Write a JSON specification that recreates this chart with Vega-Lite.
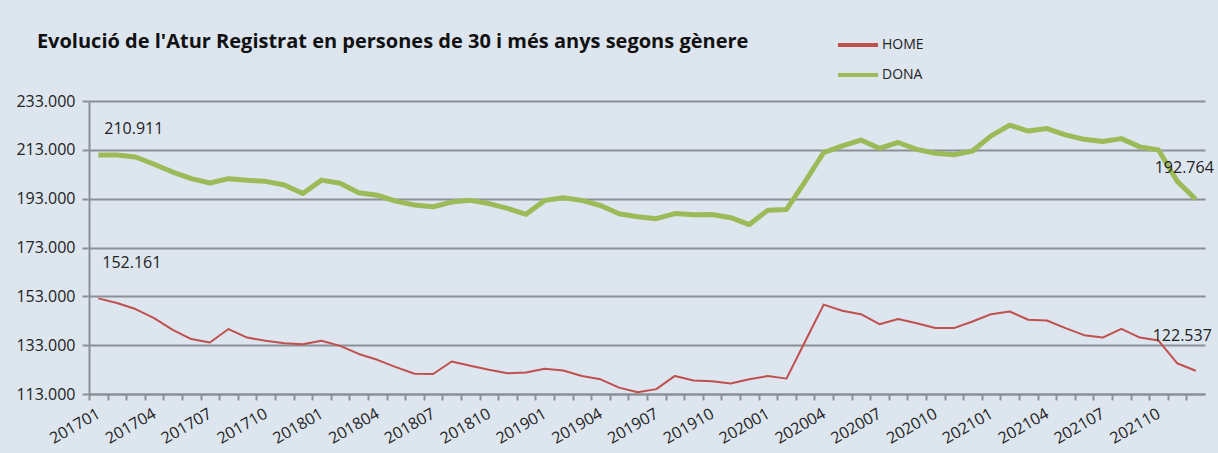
{
  "$schema": "https://vega.github.io/schema/vega-lite/v6.json",
  "width": 1116,
  "height": 293,
  "autosize": {"type": "none"},
  "padding": {"left": 89, "top": 101, "right": 13, "bottom": 59},
  "background": "#DDE5EF",
  "config": {
    "locale": {"number": {"decimal": ",", "thousands": ".", "grouping": [3], "currency": ["", " €"]}},
    "view": {"stroke": null},
    "font": "Open Sans"
  },
  "title": {
    "text": "Evolució de l'Atur Registrat en persones de 30 i més anys segons gènere",
    "anchor": "start",
    "dx": 21,
    "offset": -29,
    "fontSize": 20,
    "fontWeight": "bold",
    "font": "Open Sans",
    "color": "#111111"
  },
  "data": {
    "values": [
      {"mes": "201701", "HOME": 152161, "DONA": 210911},
      {"mes": "201702", "HOME": 150250, "DONA": 210900},
      {"mes": "201703", "HOME": 147800, "DONA": 210050},
      {"mes": "201704", "HOME": 144100, "DONA": 207100},
      {"mes": "201705", "HOME": 139300, "DONA": 203900},
      {"mes": "201706", "HOME": 135500, "DONA": 201200},
      {"mes": "201707", "HOME": 134100, "DONA": 199400},
      {"mes": "201708", "HOME": 139600, "DONA": 201200},
      {"mes": "201709", "HOME": 136100, "DONA": 200500},
      {"mes": "201710", "HOME": 134800, "DONA": 200100},
      {"mes": "201711", "HOME": 133800, "DONA": 198600},
      {"mes": "201712", "HOME": 133400, "DONA": 195100},
      {"mes": "201801", "HOME": 134800, "DONA": 200600},
      {"mes": "201802", "HOME": 132700, "DONA": 199300},
      {"mes": "201803", "HOME": 129400, "DONA": 195400},
      {"mes": "201804", "HOME": 127000, "DONA": 194400},
      {"mes": "201805", "HOME": 124000, "DONA": 192000},
      {"mes": "201806", "HOME": 121300, "DONA": 190400},
      {"mes": "201807", "HOME": 121200, "DONA": 189700},
      {"mes": "201808", "HOME": 126300, "DONA": 191600},
      {"mes": "201809", "HOME": 124600, "DONA": 192300},
      {"mes": "201810", "HOME": 122900, "DONA": 191000},
      {"mes": "201811", "HOME": 121500, "DONA": 189000},
      {"mes": "201812", "HOME": 121800, "DONA": 186600},
      {"mes": "201901", "HOME": 123300, "DONA": 192300},
      {"mes": "201902", "HOME": 122600, "DONA": 193400},
      {"mes": "201903", "HOME": 120400, "DONA": 192300},
      {"mes": "201904", "HOME": 119000, "DONA": 190200},
      {"mes": "201905", "HOME": 115600, "DONA": 186800},
      {"mes": "201906", "HOME": 113700, "DONA": 185600},
      {"mes": "201907", "HOME": 115000, "DONA": 184800},
      {"mes": "201908", "HOME": 120400, "DONA": 186900},
      {"mes": "201909", "HOME": 118500, "DONA": 186400},
      {"mes": "201910", "HOME": 118200, "DONA": 186500},
      {"mes": "201911", "HOME": 117300, "DONA": 185200},
      {"mes": "201912", "HOME": 119000, "DONA": 182400},
      {"mes": "202001", "HOME": 120400, "DONA": 188300},
      {"mes": "202002", "HOME": 119300, "DONA": 188600},
      {"mes": "202003", "HOME": 134500, "DONA": 200000},
      {"mes": "202004", "HOME": 149600, "DONA": 211900},
      {"mes": "202005", "HOME": 147100, "DONA": 214600},
      {"mes": "202006", "HOME": 145700, "DONA": 217000},
      {"mes": "202007", "HOME": 141600, "DONA": 213600},
      {"mes": "202008", "HOME": 143700, "DONA": 216000},
      {"mes": "202009", "HOME": 142000, "DONA": 213200},
      {"mes": "202010", "HOME": 140000, "DONA": 211600},
      {"mes": "202011", "HOME": 140000, "DONA": 211000},
      {"mes": "202012", "HOME": 142700, "DONA": 212500},
      {"mes": "202101", "HOME": 145700, "DONA": 218700},
      {"mes": "202102", "HOME": 146800, "DONA": 223100},
      {"mes": "202103", "HOME": 143400, "DONA": 220700},
      {"mes": "202104", "HOME": 143100, "DONA": 221700},
      {"mes": "202105", "HOME": 140000, "DONA": 219100},
      {"mes": "202106", "HOME": 137100, "DONA": 217300},
      {"mes": "202107", "HOME": 136100, "DONA": 216400},
      {"mes": "202108", "HOME": 139700, "DONA": 217600},
      {"mes": "202109", "HOME": 136100, "DONA": 214200},
      {"mes": "202110", "HOME": 134900, "DONA": 212900},
      {"mes": "202111", "HOME": 125600, "DONA": 200200},
      {"mes": "202112", "HOME": 122537, "DONA": 192764}
    ]
  },
  "transform": [{"fold": ["HOME", "DONA"], "as": ["serie", "valor"]}],
  "encoding": {
    "x": {
      "field": "mes",
      "type": "ordinal",
      "scale": {"type": "band", "paddingInner": 0, "paddingOuter": 0},
      "axis": {
        "title": null,
        "orient": "bottom",
        "labelExpr": "indexof(['01','04','07','10'], slice(datum.value, 4)) >= 0 ? datum.value : ''",
        "labelAngle": -30,
        "labelAlign": "right",
        "labelBaseline": "middle",
        "labelPadding": 12,
        "labelFontSize": 16,
        "labelColor": "#222222",
        "labelFont": "Open Sans",
        "labelOverlap": false,
        "tickOffset": -9.3,
        "labelOffset": 9.3,
        "domainColor": "#8C9096",
        "domainWidth": 2,
        "tickColor": "#8C9096",
        "tickWidth": 2,
        "tickSize": 6,
        "grid": false
      }
    },
    "y": {
      "field": "valor",
      "type": "quantitative",
      "scale": {"domain": [113000, 233000], "nice": false, "zero": false},
      "axis": {
        "title": null,
        "values": [113000, 133000, 153000, 173000, 193000, 213000, 233000],
        "format": ",d",
        "labelFontSize": 16,
        "labelColor": "#222222",
        "labelFont": "Open Sans",
        "labelPadding": 7,
        "grid": true,
        "gridColor": "#8C9096",
        "gridWidth": 2,
        "domainColor": "#8C9096",
        "domainWidth": 2,
        "tickColor": "#8C9096",
        "tickWidth": 2,
        "tickSize": 7
      }
    },
    "color": {
      "field": "serie",
      "type": "nominal",
      "scale": {"domain": ["HOME", "DONA"], "range": ["#C0504D", "#9BBB59"]},
      "legend": {
        "title": null,
        "orient": "none",
        "legendX": 747,
        "legendY": -78,
        "symbolType": "stroke",
        "symbolSize": 1600,
        "symbolStrokeWidth": 4,
        "labelFontSize": 14,
        "labelFont": "Open Sans",
        "labelColor": "#222222",
        "labelOffset": 2,
        "rowPadding": -10
      }
    }
  },
  "layer": [
    {
      "transform": [{"filter": "datum.serie == 'HOME'"}],
      "mark": {"type": "line", "strokeWidth": 2, "strokeJoin": "round"}
    },
    {
      "transform": [{"filter": "datum.serie == 'DONA'"}],
      "mark": {"type": "line", "strokeWidth": 5, "strokeJoin": "round"}
    },
    {
      "transform": [{"filter": "datum.mes == '201701' && datum.serie == 'DONA'"}],
      "mark": {"type": "text", "align": "left", "baseline": "middle", "dx": 6, "dy": -26, "fontSize": 16, "font": "Open Sans", "color": "#222222"},
      "encoding": {"text": {"field": "valor", "type": "quantitative", "format": ",d"}, "color": {"value": "#222222"}}
    },
    {
      "transform": [{"filter": "datum.mes == '201701' && datum.serie == 'HOME'"}],
      "mark": {"type": "text", "align": "left", "baseline": "middle", "dx": 4, "dy": -35, "fontSize": 16, "font": "Open Sans", "color": "#222222"},
      "encoding": {"text": {"field": "valor", "type": "quantitative", "format": ",d"}, "color": {"value": "#222222"}}
    },
    {
      "transform": [{"filter": "datum.mes == '202112' && datum.serie == 'DONA'"}],
      "mark": {"type": "text", "align": "left", "baseline": "middle", "dx": -41, "dy": -31, "fontSize": 16, "font": "Open Sans", "color": "#222222"},
      "encoding": {"text": {"field": "valor", "type": "quantitative", "format": ",d"}, "color": {"value": "#222222"}}
    },
    {
      "transform": [{"filter": "datum.mes == '202112' && datum.serie == 'HOME'"}],
      "mark": {"type": "text", "align": "left", "baseline": "middle", "dx": -43, "dy": -35, "fontSize": 16, "font": "Open Sans", "color": "#222222"},
      "encoding": {"text": {"field": "valor", "type": "quantitative", "format": ",d"}, "color": {"value": "#222222"}}
    }
  ]
}
